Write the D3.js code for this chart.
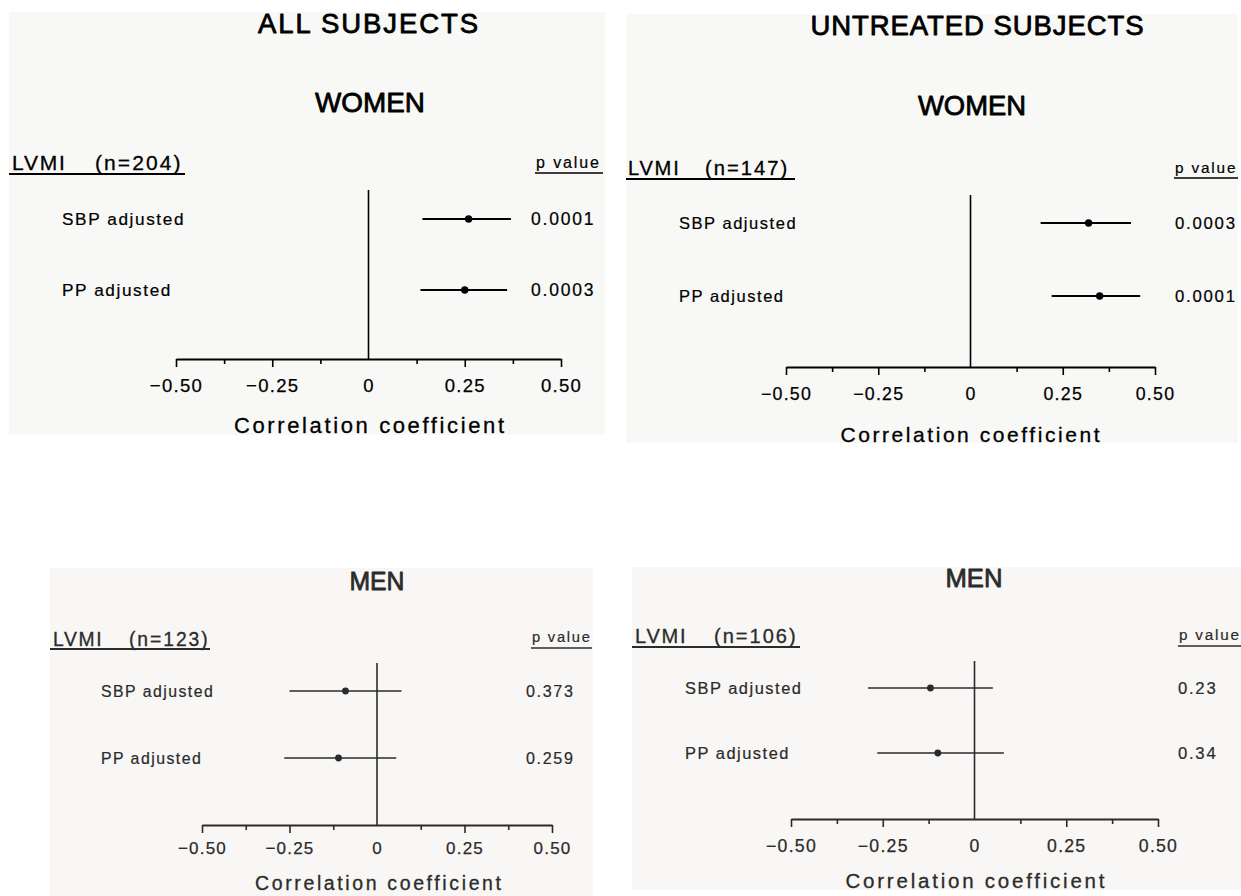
<!DOCTYPE html>
<html>
<head>
<meta charset="utf-8">
<script src="https://cdn.jsdelivr.net/npm/d3@7"></script>
<style>
  html, body { margin: 0; padding: 0; background: #ffffff; }
  svg { display: block; font-family: "Liberation Sans", Arial, Helvetica, sans-serif; }
</style>
</head>
<body>
<svg id="chart" width="1241" height="896"></svg>
<script>
// Correlation of LVMI with blood pressure (adjusted), by sex and treatment status
const columnTitles = ["ALL SUBJECTS", "UNTREATED SUBJECTS"];
const panelTitles = ["WOMEN", "WOMEN", "MEN", "MEN"];
const sampleSizes = [204, 147, 123, 106];
const rowLabels = ["SBP adjusted", "PP adjusted"];

// correlation coefficient and 95% interval for [SBP adjusted, PP adjusted]
const estimates = [[0.26, 0.25], [0.32, 0.35], [-0.09, -0.11], [-0.12, -0.10]];
const lowerCI   = [[0.14, 0.135], [0.19, 0.22], [-0.25, -0.265], [-0.29, -0.265]];
const upperCI   = [[0.37, 0.36], [0.435, 0.46], [0.07, 0.055], [0.05, 0.08]];
const pValues   = [["0.0001", "0.0003"], ["0.0003", "0.0001"], ["0.373", "0.259"], ["0.23", "0.34"]];

const tickValues = [-0.5, -0.25, 0, 0.25, 0.5];
const tickLabels = ["\u22120.50", "\u22120.25", "0", "0.25", "0.50"];
const minorTicks = [-0.375, -0.125, 0.125, 0.375];
const domain = [-0.5, 0.5];

// panel placement
const layouts = [
  { bg: [9, 12, 605, 435], ax: [176, 561], axY: 359, zeroTop: 190, rows: [219, 290], s: 1, ink: "#000",
    col: { x: 368, y: 33, w: 220 }, title: { x: 370, y: 112, w: 110 },
    hdr: { x: 12, x2: 95, y: 170, ul: [9, 185, 174] }, pv: { x: 536, y: 168, ul: [535, 603, 173] },
    lab: 62, pvx: 531, tickPad: 12, axTitle: { x: 369, y: 433, w: 270, fs: 22 } },
  { bg: [626, 14, 1238, 443], ax: [786, 1155], axY: 367, zeroTop: 195, rows: [223, 296], s: 0.96, ink: "#000",
    col: { x: 977, y: 35, w: 333 }, title: { x: 972, y: 115, w: 108 },
    hdr: { x: 628, x2: 705, y: 175, ul: [626, 795, 179] }, pv: { x: 1175, y: 173, ul: [1174, 1238, 178] },
    lab: 679, pvx: 1175, tickPad: 12, axTitle: { x: 970, y: 442, w: 259, fs: 21 } },
  { bg: [50, 568, 593, 896], ax: [202, 552], axY: 825, zeroTop: 663, rows: [691, 758], s: 0.92, ink: "#2b2b2b",
    col: null, title: { x: 377, y: 590, w: 55 },
    hdr: { x: 53, x2: 129, y: 646, ul: [50, 210, 649] }, pv: { x: 532, y: 642, ul: [531, 592, 648] },
    lab: 101, pvx: 526, tickPad: 9, axTitle: { x: 378, y: 890, w: 246, fs: 19.5 } },
  { bg: [632, 567, 1241, 890], ax: [791, 1158], axY: 819, zeroTop: 661, rows: [688, 753], s: 0.955, ink: "#2b2b2b",
    col: null, title: { x: 974, y: 587, w: 57 },
    hdr: { x: 635, x2: 714, y: 643, ul: [632, 800, 647] }, pv: { x: 1179, y: 640, ul: [1178, 1241, 646] },
    lab: 685, pvx: 1178, tickPad: 12, axTitle: { x: 975, y: 888, w: 259, fs: 20.5 } }
];

const svg = d3.select("#chart");

// thicken glyph strokes a little, like the heavier print face
function ink(sel, color, w) {
  return sel.attr("fill", color).attr("stroke", color).attr("stroke-width", w).attr("stroke-linejoin", "round");
}

layouts.forEach((L, i) => {
  const g = svg.append("g").attr("class", "panel");
  const c = L.ink;
  const s = L.s;

  g.append("rect")
    .attr("x", L.bg[0]).attr("y", L.bg[1])
    .attr("width", L.bg[2] - L.bg[0]).attr("height", L.bg[3] - L.bg[1])
    .attr("fill", i < 2 ? "#f8f8f6" : "#f8f7f5");

  const x = d3.scaleLinear().domain(domain).range(L.ax);

  // column heading (top row only)
  if (L.col) {
    ink(g.append("text").text(columnTitles[i])
      .attr("x", L.col.x).attr("y", L.col.y)
      .attr("text-anchor", "middle")
      .attr("font-size", 27.5)
      .attr("textLength", L.col.w).attr("lengthAdjust", "spacing"), c, 0.8);
  }

  // sex heading
  ink(g.append("text").text(panelTitles[i])
    .attr("x", L.title.x).attr("y", L.title.y)
    .attr("text-anchor", "middle")
    .attr("font-size", i < 2 ? 27.5 : 26)
    .attr("textLength", L.title.w).attr("lengthAdjust", "spacingAndGlyphs"), c, 0.8);

  // outcome header with sample size, underlined
  ink(g.append("text").text("LVMI")
    .attr("x", L.hdr.x).attr("y", L.hdr.y)
    .attr("font-size", 21 * s)
    .style("letter-spacing", (1.8 * s) + "px"), c, 0.3);
  ink(g.append("text").text("(n=" + sampleSizes[i] + ")")
    .attr("x", L.hdr.x2).attr("y", L.hdr.y)
    .attr("font-size", 21 * s)
    .style("letter-spacing", (2.1 * s) + "px"), c, 0.3);
  g.append("line")
    .attr("x1", L.hdr.ul[0]).attr("x2", L.hdr.ul[1])
    .attr("y1", L.hdr.ul[2]).attr("y2", L.hdr.ul[2])
    .attr("stroke", c).attr("stroke-width", 2);

  ink(g.append("text").text("p value")
    .attr("x", L.pv.x).attr("y", L.pv.y)
    .attr("font-size", 16 * s)
    .style("letter-spacing", (1.9 * s) + "px"), c, 0.2);
  g.append("line")
    .attr("x1", L.pv.ul[0]).attr("x2", L.pv.ul[1])
    .attr("y1", L.pv.ul[2]).attr("y2", L.pv.ul[2])
    .attr("stroke", c).attr("stroke-width", 1.6);

  // zero reference line
  g.append("line")
    .attr("x1", x(0)).attr("x2", x(0))
    .attr("y1", L.zeroTop).attr("y2", L.axY)
    .attr("stroke", c).attr("stroke-width", 1.6);

  // axis with major and minor ticks
  const axisG = g.append("g").attr("transform", `translate(0,${L.axY})`);
  axisG.call(d3.axisBottom(x)
      .tickValues(tickValues)
      .tickFormat((d, k) => tickLabels[k])
      .tickSize(8).tickSizeOuter(0).tickPadding(L.tickPad));
  axisG.select(".domain").attr("stroke", c).attr("stroke-width", 2.2);
  axisG.selectAll(".tick line").attr("stroke", c).attr("stroke-width", 1.6);
  axisG.selectAll(".tick").filter(d => d === 0).select("line").remove();
  ink(axisG.selectAll(".tick text")
    .attr("font-size", 18.5 * s)
    .attr("font-family", "\"Liberation Sans\", Arial, sans-serif")
    .style("letter-spacing", (1.3 * s) + "px"), c, 0.25);

  const minorG = g.append("g").attr("transform", `translate(0,${L.axY})`);
  minorG.call(d3.axisBottom(x).tickValues(minorTicks).tickFormat("").tickSize(5).tickSizeOuter(0));
  minorG.select(".domain").remove();
  minorG.selectAll(".tick line").attr("stroke", c).attr("stroke-width", 1.6);

  ink(g.append("text").text("Correlation coefficient")
    .attr("x", L.axTitle.x).attr("y", L.axTitle.y)
    .attr("text-anchor", "middle")
    .attr("font-size", L.axTitle.fs)
    .attr("textLength", L.axTitle.w).attr("lengthAdjust", "spacing"), c, 0.3);

  // rows: label, interval, point estimate, p value
  rowLabels.forEach((lab, r) => {
    const y = L.rows[r];
    ink(g.append("text").text(lab)
      .attr("x", L.lab).attr("y", y + 6.2 * s)
      .attr("font-size", 17.2 * s)
      .style("letter-spacing", (1.6 * s) + "px"), c, 0.22);
    g.append("line")
      .attr("x1", x(lowerCI[i][r])).attr("x2", x(upperCI[i][r]))
      .attr("y1", y).attr("y2", y)
      .attr("stroke", c).attr("stroke-width", i < 2 ? 1.8 : 1.5);
    g.append("circle")
      .attr("cx", x(estimates[i][r])).attr("cy", y)
      .attr("r", i < 2 ? 3.7 : 3.4)
      .attr("fill", c);
    ink(g.append("text").text(pValues[i][r])
      .attr("x", L.pvx).attr("y", y + 6.2 * s)
      .attr("font-size", 17.5 * s)
      .style("letter-spacing", (1.8 * s) + "px"), c, 0.22);
  });
});
</script>
</body>
</html>
